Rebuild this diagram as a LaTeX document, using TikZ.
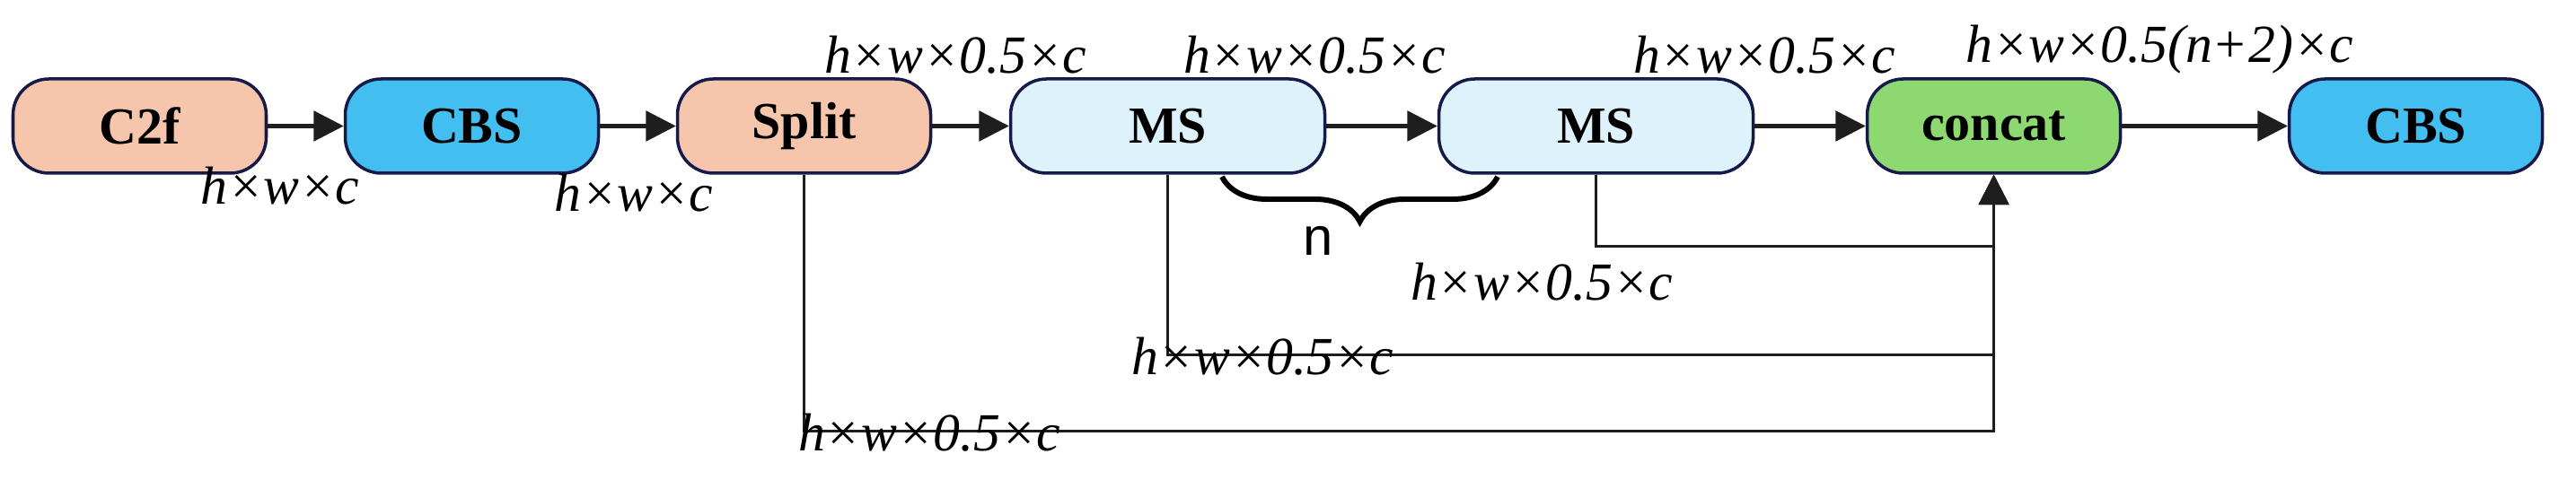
\documentclass[tikz,border=0pt]{standalone}
\usepackage{fontspec}
\setmainfont{Liberation Serif}
\setsansfont{Liberation Sans}
\usetikzlibrary{positioning,arrows.meta,decorations.pathreplacing}
\definecolor{peach}{RGB}{245,198,171}
\definecolor{cbsblue}{RGB}{66,191,240}
\definecolor{msblue}{RGB}{222,242,252}
\definecolor{catgreen}{RGB}{142,216,114}
\definecolor{navy}{RGB}{22,26,72}
\definecolor{wire}{RGB}{30,30,30}
\begin{document}
\begin{tikzpicture}[
  block/.style={draw=navy, line width=1pt, rounded corners=0.4cm, minimum height=1.05cm,
    minimum width=2.82cm, inner sep=0pt, font=\bfseries\fontsize{16.5}{20}\selectfont},
  dim/.style={anchor=base, inner sep=0pt, font=\itshape\fontsize{17}{20}\selectfont},
  flow/.style={->, line width=1.2pt, draw=wire},
  bus/.style={->, line width=0.85pt, draw=wire},
  >={Triangle[length=9.5pt,width=9.5pt]}
]
  \useasboundingbox (0,0) rectangle (28.69,-5.35);

  % main chain
  \node[block, fill=peach] (c2f) at (1.555,-1.405) {C2f};
  \node[block, fill=cbsblue, right=0.845cm of c2f] (cbs1) {CBS};
  \node[block, fill=peach, right=0.845cm of cbs1] (split) {Split};
  \node[block, fill=msblue, minimum width=3.5cm, right=0.855cm of split] (ms1) {MS};
  \node[block, fill=msblue, minimum width=3.5cm, right=1.235cm of ms1] (ms2) {MS};
  \node[block, fill=catgreen, right=1.235cm of ms2] (concat) {concat};
  \node[block, fill=cbsblue, right=1.845cm of concat] (cbs2) {CBS};

  \draw[flow] (c2f.east) -- (cbs1.west);
  \draw[flow] (cbs1.east) -- (split.west);
  \draw[flow] (split.east) -- (ms1.west);
  \draw[flow] (ms1.east) -- (ms2.west);
  \draw[flow] (ms2.east) -- (concat.west);
  \draw[flow] (concat.east) -- (cbs2.west);

  % branches into concat
  \draw[bus] (split.south) -- ++(0,-2.86) -| (concat.south);
  \draw[bus] (ms1.south) -- ++(0,-2.01) -| (concat.south);
  \draw[bus] (ms2.south) -- ++(0,-0.80) -| (concat.south);

  % repeat brace
  \draw[decorate, decoration={brace, mirror, amplitude=0.5cm}, line width=1.7pt]
    (13.61,-1.97) -- (16.68,-1.97);
  \node[anchor=base, inner sep=0pt, font=\sffamily\fontsize{17}{20}\selectfont] (nlab) at (14.68,-2.85) {n};

  % tensor sizes
  \node[dim] (d1) at (3.12,-2.28) {h×w×c};
  \node[dim] (d2) at (7.06,-2.36) {h×w×c};
  \node[dim] (d3) at (10.64,-0.82) {h×w×0.5×c};
  \node[dim] (d4) at (14.64,-0.82) {h×w×0.5×c};
  \node[dim] (d5) at (19.65,-0.82) {h×w×0.5×c};
  \node[dim] (d6) at (24.05,-0.70) {h×w×0.5(n+2)×c};
  \node[dim] (d7) at (17.17,-3.35) {h×w×0.5×c};
  \node[dim] (d8) at (14.06,-4.18) {h×w×0.5×c};
  \node[dim] (d9) at (10.35,-5.03) {h×w×0.5×c};
\end{tikzpicture}
\end{document}
